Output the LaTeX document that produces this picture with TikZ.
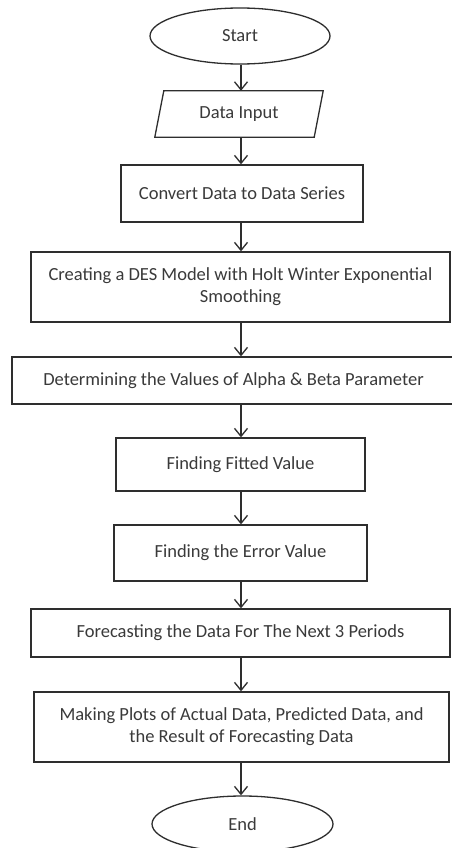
\documentclass[tikz,border=0pt]{standalone}
\usepackage{fontspec}
\setmainfont{Carlito}
\usetikzlibrary{shapes.geometric,arrows.meta}
\definecolor{ln}{HTML}{2E2E2E}
\definecolor{tx}{HTML}{3A3A3A}
\begin{document}
\begin{tikzpicture}[x=1pt,y=-1pt,
  txt/.style={text=tx,font=\fontsize{18.5}{22}\selectfont,align=center,inner sep=0pt},
  box/.style={txt,draw=ln,line width=1.3pt,rectangle},
  term/.style={txt,draw=ln,line width=1.3pt,ellipse},
  flow/.style={draw=ln,line width=1.3pt,-{Straight Barb[length=8pt,width=13pt,line width=1.3pt]}}]
\useasboundingbox[fill=white] (0,0) rectangle (451,848);
\coordinate (axis) at (241,0);
\node[term,minimum width=180pt,minimum height=56pt] (start) at (240,36) {Start};
\node[txt,minimum width=159pt,minimum height=46pt] (input) at (239,114) {Data Input};
\draw[ln,line width=1.3pt] ([xshift=4.5pt]input.north west) -- ([xshift=4.5pt]input.north east)
  -- ([xshift=-4.5pt]input.south east) -- ([xshift=-4.5pt]input.south west) -- cycle;
\node[box,minimum width=242pt,minimum height=57pt] (convert) at (242,193.5) {Convert Data to Data Series};
\node[box,minimum width=419pt,minimum height=70pt] (create) at (240.5,287) {Creating a DES Model with Holt Winter Exponential\\Smoothing};
\node[box,minimum width=443pt,minimum height=47pt] (determine) at (233.5,380.5) {Determining the Values of Alpha \& Beta Parameter};
\node[box,minimum width=249pt,minimum height=53pt] (fitted) at (240.5,464.5) {Finding Fitted Value};
\node[box,minimum width=253pt,minimum height=56pt] (error) at (240.5,553) {Finding the Error Value};
\node[box,minimum width=419pt,minimum height=48pt] (forecast) at (240.5,633) {Forecasting the Data For The Next 3 Periods};
\node[box,minimum width=415pt,minimum height=70pt] (making) at (241.5,727) {Making Plots of Actual Data, Predicted Data, and\\the Result of Forecasting Data};
\node[term,minimum width=181pt,minimum height=56pt] (end) at (242.5,824) {End};
\draw[flow] (axis |- start.south) -- (axis |- input.north);
\draw[flow] (axis |- input.south) -- (axis |- convert.north);
\draw[flow] (axis |- convert.south) -- (axis |- create.north);
\draw[flow] (axis |- create.south) -- (axis |- determine.north);
\draw[flow] (axis |- determine.south) -- (axis |- fitted.north);
\draw[flow] (axis |- fitted.south) -- (axis |- error.north);
\draw[flow] (axis |- error.south) -- (axis |- forecast.north);
\draw[flow] (axis |- forecast.south) -- (axis |- making.north);
\draw[flow] (axis |- making.south) -- (axis |- end.north);
\end{tikzpicture}
\end{document}
